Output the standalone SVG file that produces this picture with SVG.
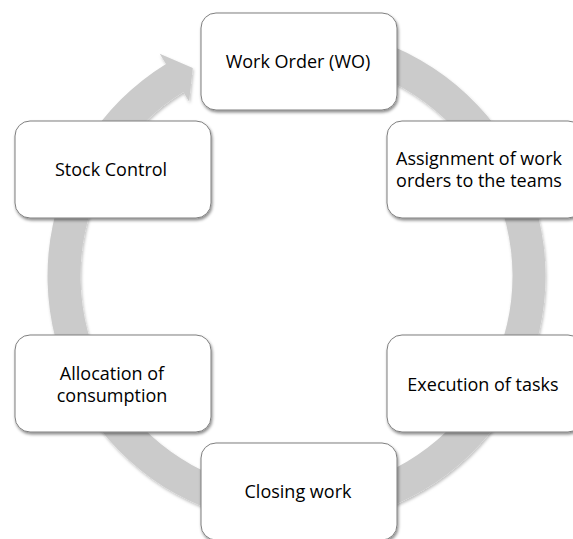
<svg xmlns="http://www.w3.org/2000/svg" width="573" height="539" viewBox="0 0 573 539">
<style>
.box{fill:#ffffff;stroke:#7f7f7f;stroke-width:1;filter:url(#sh)}
.lbl{font-family:"Open Sans","Noto Sans","Liberation Sans",sans-serif;font-size:18px;fill:#000;text-anchor:middle}
.arc{fill:#cbcbcb;filter:url(#sh2)}
</style>
<defs>
<filter id="sh" x="-10%" y="-10%" width="125%" height="130%">
<feDropShadow dx="1" dy="2" stdDeviation="1.8" flood-color="#000" flood-opacity="0.45"/>
</filter>
<filter id="sh2" x="-10%" y="-10%" width="125%" height="125%">
<feDropShadow dx="1" dy="2" stdDeviation="1.5" flood-color="#000" flood-opacity="0.25"/>
</filter>
</defs>
<rect width="573" height="539" fill="#ffffff"/>
<g id="connectors">
<path class="arc" d="M339.74 30.78 A249 249 0 1 1 166.02 63.93 L159.7 53.7 L192.8 67.9 L189.1 101.4 L183.32 92.03 A216 216 0 1 0 334.01 63.28 Z"/>
</g>
<g id="node-wo">
<rect class="box" x="201" y="13" width="196" height="97" rx="15"/>
<text class="lbl" x="298" y="68">Work Order (WO)</text>
</g>
<g id="node-assign">
<rect class="box" x="387" y="121" width="196" height="97" rx="15"/>
<text class="lbl" x="479" y="165">Assignment of work</text>
<text class="lbl" x="479" y="187">orders to the teams</text>
</g>
<g id="node-exec">
<rect class="box" x="387" y="335" width="196" height="97" rx="15"/>
<text class="lbl" x="483" y="390.5">Execution of tasks</text>
</g>
<g id="node-closing">
<rect class="box" x="201" y="443" width="196" height="97" rx="15"/>
<text class="lbl" x="298" y="498">Closing work</text>
</g>
<g id="node-alloc">
<rect class="box" x="15" y="335" width="196" height="97" rx="15"/>
<text class="lbl" x="112" y="380">Allocation of</text>
<text class="lbl" x="112" y="402">consumption</text>
</g>
<g id="node-stock">
<rect class="box" x="15" y="121" width="196" height="97" rx="15"/>
<text class="lbl" x="111" y="176">Stock Control</text>
</g>
</svg>
